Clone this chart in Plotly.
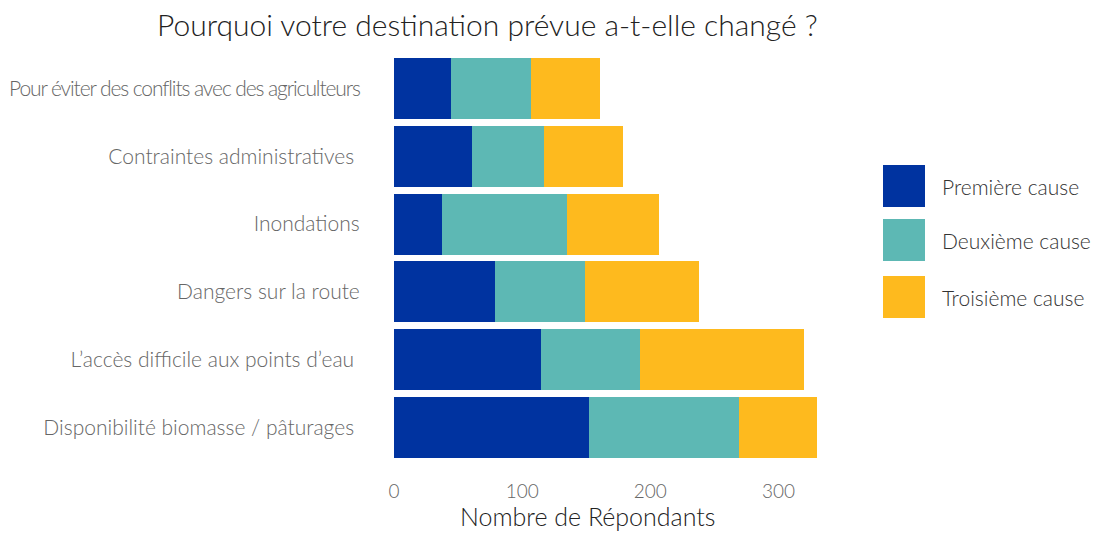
import plotly.graph_objects as go

categories = [
    "Disponibilité biomasse / pâturages\u00a0",
    "L\u2019accès difficile aux points d\u2019eau\u00a0",
    "Dangers sur la route",
    "Inondations",
    "Contraintes administratives\u00a0",
    "Pour éviter des conflits avec des agriculteurs",
]
premiere = [152, 115, 79, 37, 61, 44]
deuxieme = [117, 77, 70, 98, 56, 63]
troisieme = [61, 128, 89, 72, 62, 54]
series_names = ["Première cause", "Deuxième cause", "Troisième cause"]
colors = ["#0033A0", "#5DB8B4", "#FEBA1E"]
x_ticks = [0, 100, 200, 300]

W, H = 1096, 534
L, R, T, B = 373, 838, 48, 468
FONT = "Lato"

def px_x(p):
    return (p - L) / (R - L)

def px_y(p):
    return (B - p) / (B - T)

fig = go.Figure()
for name, vals, col in zip(series_names, [premiere, deuxieme, troisieme], colors):
    fig.add_trace(go.Bar(
        y=categories, x=vals, name=name, orientation="h",
        marker=dict(color=col, line=dict(width=0)),
        showlegend=False,
    ))

total_max = max(a + b + c for a, b, c in zip(premiere, deuxieme, troisieme))
pad = total_max * 0.05

# tick text: the long label is rendered condensed in the reference
ticktext = [
    (f'<span style="letter-spacing:-1.1px">{c}</span>' if len(c) > 40 else c)
    for c in categories
]

shapes = []
annotations = []
leg_tops = [165, 219, 276]
for name, col, top in zip(series_names, colors, leg_tops):
    shapes.append(dict(type="rect", xref="paper", yref="paper",
                       x0=px_x(883), x1=px_x(925), y0=px_y(top + 42), y1=px_y(top),
                       fillcolor=col, line=dict(width=0)))
    annotations.append(dict(text=name, xref="paper", yref="paper",
                            x=px_x(940), y=px_y(top + 21), xanchor="left", yanchor="middle",
                            showarrow=False, font=dict(family=FONT, size=21, color="#333333", weight=300)))

annotations.append(dict(text="Pourquoi votre destination prévue a-t-elle changé ?",
                        xref="paper", yref="paper", x=px_x(487), y=px_y(24),
                        xanchor="center", yanchor="middle", showarrow=False,
                        font=dict(family=FONT, size=30, color="#222222", weight=300)))
annotations.append(dict(text="Nombre de Répondants",
                        xref="paper", yref="paper", x=px_x(587), y=px_y(516),
                        xanchor="center", yanchor="middle", showarrow=False,
                        font=dict(family=FONT, size=25, color="#222222", weight=300)))

fig.update_layout(
    width=W, height=H,
    margin=dict(l=L, r=W - R, t=T, b=H - B, pad=0, autoexpand=False),
    barmode="stack", bargap=0.1,
    plot_bgcolor="white", paper_bgcolor="white",
    font=dict(family=FONT, weight=300),
    shapes=shapes, annotations=annotations,
    xaxis=dict(range=[-pad, total_max + pad], tickvals=x_ticks, showgrid=False, zeroline=False,
               showline=False, ticks="outside", ticklen=6, tickcolor="rgba(0,0,0,0)",
               automargin=False,
               tickfont=dict(family=FONT, size=19, color="#666666", weight=300)),
    yaxis=dict(range=[-0.6, 5.6], showgrid=False, zeroline=False, showline=False,
               tickmode="array", tickvals=categories, ticktext=ticktext,
               ticks="outside", ticklen=8, tickcolor="rgba(0,0,0,0)",
               automargin=False,
               tickfont=dict(family=FONT, size=21, color="#666666", weight=300)),
)

fig.write_html("out.html", config={"displayModeBar": False},
               post_script="document.body.style.margin='0';")
